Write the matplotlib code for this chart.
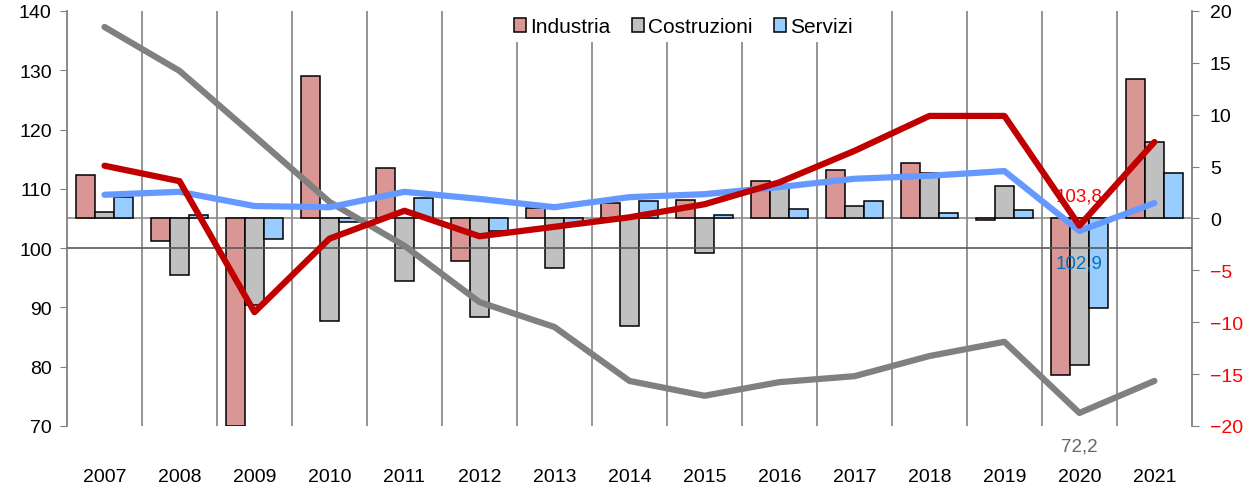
import matplotlib.pyplot as plt
from matplotlib.patches import Patch

plt.rcParams['font.family'] = ['Liberation Sans', 'DejaVu Sans']

anni = ['2007', '2008', '2009', '2010', '2011', '2012', '2013', '2014',
        '2015', '2016', '2017', '2018', '2019', '2020', '2021']

# variazioni % (asse destro)
var_industria = [4.2, -2.2, -20.0, 13.7, 4.9, -4.1, 1.0, 1.5, 1.8, 3.6, 4.7, 5.3, -0.1, -15.1, 13.4]
var_costruzioni = [0.6, -5.4, -8.3, -9.9, -6.0, -9.5, -4.8, -10.4, -3.3, 3.1, 1.2, 4.4, 3.1, -14.1, 7.4]
var_servizi = [2.1, 0.3, -2.0, -0.3, 2.0, -1.2, -0.5, 1.7, 0.3, 0.9, 1.7, 0.5, 0.8, -8.6, 4.4]

# indici (asse sinistro)
idx_industria = [113.9, 111.3, 89.2, 101.6, 106.3, 102.0, 103.6, 105.2, 107.4, 111.1, 116.4, 122.3, 122.3, 103.8, 117.9]
idx_costruzioni = [137.3, 129.9, 118.9, 107.8, 100.4, 90.9, 86.7, 77.6, 75.1, 77.4, 78.4, 81.8, 84.2, 72.2, 77.6]
idx_servizi = [109.0, 109.5, 107.1, 106.9, 109.5, 108.3, 106.9, 108.6, 109.1, 110.3, 111.7, 112.2, 113.0, 102.9, 107.6]

c_ind, c_cos, c_ser = '#D99694', '#C0C0C0', '#99CCFF'

fig = plt.figure(figsize=(12.52, 4.89), dpi=100)
ax = fig.add_axes([0.0535, 0.1268, 0.8985, 0.8487])
x = list(range(len(anni)))
w = 0.253

ax.bar([i - w for i in x], var_industria, w, color=c_ind, edgecolor='black', linewidth=1.1, zorder=3)
ax.bar(x, var_costruzioni, w, color=c_cos, edgecolor='black', linewidth=1.1, zorder=3)
ax.bar([i + w for i in x], var_servizi, w, color=c_ser, edgecolor='black', linewidth=1.1, zorder=3)

ax.set_xlim(-0.5, len(anni) - 0.5)
ax.set_ylim(-20, 20)
ax.set_yticks(range(-20, 21, 5))
ax.set_xticks(x)
ax.set_xticklabels(anni, fontsize=14)
ax.tick_params(axis='x', length=0, pad=30)
for b in range(1, len(anni)):
    ax.axvline(b - 0.5, color='#8C8C8C', lw=1.3, zorder=1)
ax.axhline(0, color='#8C8C8C', lw=1.2, zorder=2)

for s in ['top', 'bottom']:
    ax.spines[s].set_visible(False)
for s in ['left', 'right']:
    ax.spines[s].set_color('#808080')
    ax.spines[s].set_linewidth(1.3)

ax2 = ax.twinx()
# twinx rimette i tick di ax a sinistra: scambio i lati
ax.yaxis.tick_right()
ax.yaxis.set_label_position('right')
ax.tick_params(axis='y', labelsize=14, color='#808080', length=5, pad=8)
for lab, v in zip(ax.get_yticklabels(), range(-20, 21, 5)):
    lab.set_color('red' if v < 0 else 'black')

ax2.yaxis.tick_left()
ax2.set_ylim(70, 140)
ax2.set_yticks(range(70, 141, 10))
ax2.tick_params(axis='y', labelsize=14, color='#808080', length=5, pad=6)
for s in ax2.spines.values():
    s.set_visible(False)
ax2.axhline(100, color='#595959', lw=1.2, zorder=1)

ax2.plot(x, idx_costruzioni, color='#808080', lw=4.5, solid_capstyle='round', zorder=4)
ax2.plot(x, idx_industria, color='#C00000', lw=4.5, solid_capstyle='round', zorder=5)
ax2.plot(x, idx_servizi, color='#6699FF', lw=4.5, solid_capstyle='round', zorder=4)

ax2.text(13, 108.8, '103,8', color='red', fontsize=13.5, ha='center', va='center')
ax2.text(13, 97.5, '102,9', color='#0070C0', fontsize=13.5, ha='center', va='center')
ax2.text(13, 66.6, '72,2', color='#666666', fontsize=13.5, ha='center', va='center', clip_on=False)

handles = [Patch(facecolor=c, edgecolor='black', linewidth=1.1) for c in (c_ind, c_cos, c_ser)]
leg = ax2.legend(handles, ['Industria', 'Costruzioni', 'Servizi'], loc='upper center',
                 bbox_to_anchor=(0.548, 1.01), ncol=3, fontsize=15, frameon=True,
                 facecolor='white', edgecolor='none', framealpha=1, fancybox=False,
                 handlelength=0.6, handleheight=0.6, handletextpad=0.2,
                 columnspacing=1.0, borderpad=0.3, borderaxespad=0.2)
leg.set_zorder(10)

plt.savefig('out.png', dpi=100)
